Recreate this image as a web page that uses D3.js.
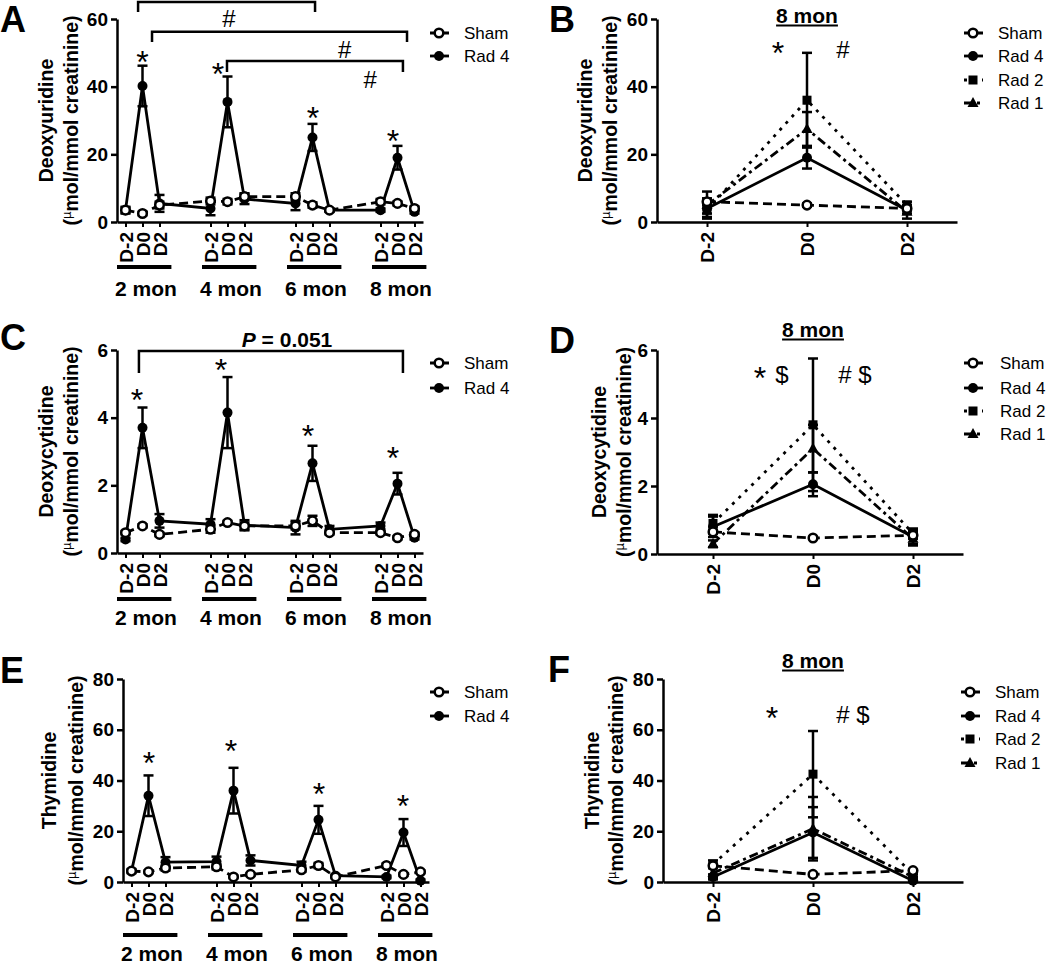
<!DOCTYPE html>
<html><head><meta charset="utf-8">
<script src="https://cdn.jsdelivr.net/npm/d3@7"></script>
<style>
body{margin:0;background:#fff}
svg{display:block}
text{font-family:"Liberation Sans",Arial,Helvetica,sans-serif;fill:#000}
</style>
</head><body>
<svg id="c" width="1050" height="964"></svg>
<script>
// ---------- data ----------
const days = ["D-2", "D0", "D2"];
const months = ["2 mon", "4 mon", "6 mon", "8 mon"];

// A: Deoxyuridine, time course
const aTicks = [0, 20, 40, 60];
const aSham = [3.5, 2.5, 5, 6.2, 6, 7.5, 7.5, 5, 3.5, 6, 5.5, 4];
const aShamErr = [0.8, 0.5, 1, 1, 0.8, 1, 1, 0.8, 0.5, 0.8, 0.6, 0.6];
const aRad4 = [3.5, 40.2, 5.5, 4, 35.5, 6.8, 5.5, 25, 3.5, 3.5, 19, 3];
const aRad4Err = [1, 6, 2.5, 2, 7.5, 1.5, 2, 4, 0.5, 0.5, 3.5, 0.5];
const aBrackets = [[0.74, 11.15, 65.0, 62.1], [1.56, 16.56, 56.2, 53.2], [5.97, 16.32, 47.6, 44.3]];
const aStars = [[1.0, 49.1], [5.44, 45.5], [11.03, 32.5], [15.74, 25.7]];
const aTexts = [["#", 6.09, 57.5], ["#", 12.9, 48.5], ["#", 14.4, 39.6]];

// B: Deoxyuridine, 8 mon
const bTicks = [0, 20, 40, 60];
const bSham = [6, 5, 4], bShamErr = [1, 0.5, 0.5];
const bRad4 = [4, 19, 3.5], bRad4Err = [1.5, 3.2, 1];
const bRad2 = [3.5, 36, 5], bRad2Err = [2, 14, 1];
const bRad1 = [5, 27.5, 3], bRad1Err = [4, 5, 2];
const bStars = [[0.71, 51.7]];
const bTexts = [["#", 1.36, 48.5]];

// C: Deoxycytidine, time course
const cTicks = [0, 2, 4, 6];
const cSham = [0.6, 0.8, 0.55, 0.7, 0.9, 0.8, 0.8, 0.95, 0.6, 0.6, 0.45, 0.55];
const cShamErr = [0.05, 0.05, 0.05, 0.1, 0.05, 0.1, 0.1, 0.15, 0.05, 0.05, 0.05, 0.05];
const cRad4 = [0.4, 3.7, 0.95, 0.85, 4.15, 0.82, 0.75, 2.65, 0.7, 0.8, 2.05, 0.45];
const cRad4Err = [0.05, 0.6, 0.2, 0.15, 1.05, 0.15, 0.2, 0.52, 0.1, 0.1, 0.32, 0.05];
const cBrackets = [[0.79, 16.32, 5.97, 5.32]];
const cStars = [[0.68, 4.70], [5.62, 5.59], [10.74, 3.64], [15.74, 2.99]];
const cTexts = [["P = 0.051", 9.5, 6.09]];

// D: Deoxycytidine, 8 mon
const dTicks = [0, 2, 4, 6];
const dSham = [0.65, 0.47, 0.55], dShamErr = [0.05, 0.03, 0.05];
const dRad4 = [0.8, 2.05, 0.5], dRad4Err = [0.3, 0.35, 0.2];
const dRad2 = [0.9, 3.8, 0.6], dRad2Err = [0.25, 1.95, 0.15];
const dRad1 = [0.3, 3.1, 0.45], dRad1Err = [0.1, 0.7, 0.2];
const dStars = [[0.47, 5.34]];
const dTexts = [["$", 0.69, 5.03], ["# $", 1.42, 5.03]];

// E: Thymidine, time course
const eTicks = [0, 20, 40, 60, 80];
const eSham = [4.3, 4, 5.5, 6, 2, 3, 4.8, 6.5, 2, 6.5, 3, 4];
const eShamErr = [0.5, 0.5, 1, 1, 0.5, 0.5, 0.8, 1, 0.5, 0.8, 0.5, 0.5];
const eRad4 = [4.3, 34, 7.8, 8, 36, 8.5, 6.5, 24.5, 2.5, 2, 19.5, 0.5];
const eRad4Err = [0.8, 8, 2, 2, 9, 2, 1.5, 5.5, 0.5, 0.5, 5.3, 0.5];
const eStars = [[1.03, 49.3], [5.85, 54.0], [11.03, 37.0], [15.97, 32.3]];

// F: Thymidine, 8 mon
const fTicks = [0, 20, 40, 60, 80];
const fSham = [6.4, 3, 4.5], fShamErr = [0.8, 0.5, 0.5];
const fRad4 = [2, 19.5, 0.5], fRad4Err = [1, 10, 0.5];
const fRad2 = [7, 42.5, 3], fRad2Err = [1.5, 17, 1];
const fRad1 = [3.5, 21, 2], fRad1Err = [2, 12.5, 1];
const fStars = [[0.59, 67.0]];
const fTexts = [["# $", 1.40, 62.7]];

// ---------- styles ----------
const styles = {
  "Sham":  {dash: "9,5", marker: "open"},
  "Rad 4": {dash: null, marker: "circle"},
  "Rad 2": {dash: "3,6", marker: "square"},
  "Rad 1": {dash: "9,4,3,4", marker: "triangle"}
};

const longPos = [], longLabels = [];
months.forEach((m, mi) => days.forEach((d, di) => { longPos.push(mi * 5 + di); longLabels.push(d); }));
const shortPos = [0, 1, 2];

const svg = d3.select("#c");

function marker(g, type, cx, cy) {
  if (type === "open") {
    g.append("circle").attr("cx", cx).attr("cy", cy).attr("r", 4.3)
      .attr("fill", "#fff").attr("stroke", "#000").attr("stroke-width", 2.5);
  } else if (type === "circle") {
    g.append("circle").attr("cx", cx).attr("cy", cy).attr("r", 5).attr("fill", "#000");
  } else if (type === "square") {
    g.append("rect").attr("x", cx - 4.5).attr("y", cy - 4.5).attr("width", 9).attr("height", 9).attr("fill", "#000");
  } else {
    g.append("path").attr("d", `M${cx},${cy - 6}L${cx + 5.5},${cy + 4}L${cx - 5.5},${cy + 4}Z`).attr("fill", "#000");
  }
}

function drawPanel(cfg) {
  const x = d3.scaleLinear().domain(cfg.xDomain).range(cfg.xRange);
  const y = d3.scaleLinear().domain([0, cfg.yMax]).range([cfg.yBottom, cfg.yTop]);
  const g = svg.append("g");
  const axisX = cfg.xRange[0];

  // panel letter
  g.append("text").attr("x", cfg.letterPos[0]).attr("y", cfg.letterPos[1])
    .attr("font-size", 36).attr("font-weight", "bold").text(cfg.letter);

  // y axis
  const ya = g.append("g").attr("transform", `translate(${axisX},0)`)
    .call(d3.axisLeft(y).tickValues(cfg.yTicks).tickFormat(d3.format("d"))
      .tickSize(6).tickSizeOuter(0).tickPadding(3));
  ya.select(".domain").attr("stroke-width", 2.5);
  ya.selectAll(".tick line").attr("stroke-width", 2.5);
  ya.selectAll("text").attr("font-size", 19).attr("font-weight", "bold")
    .attr("font-family", "Liberation Sans, Arial, sans-serif");

  // x axis
  const xa = g.append("g").attr("transform", `translate(0,${cfg.yBottom})`)
    .call(d3.axisBottom(x).tickValues(cfg.pos).tickFormat((d, i) => cfg.labels[i]).tickSize(5).tickSizeOuter(0));
  xa.select(".domain").attr("stroke-width", 2.5);
  xa.selectAll(".tick line").attr("stroke-width", 2);
  xa.selectAll("text").attr("font-size", 19).attr("font-weight", "bold")
    .attr("font-family", "Liberation Sans, Arial, sans-serif")
    .attr("transform", "rotate(-90)").attr("text-anchor", "end")
    .attr("x", -10).attr("y", 0).attr("dy", "0.36em");

  // y label
  const ymid = (cfg.yTop + cfg.yBottom) / 2;
  g.append("text").attr("transform", `translate(${axisX + cfg.yLabOff[0]},${ymid}) rotate(-90)`)
    .attr("text-anchor", "middle").attr("font-size", 19.5).attr("font-weight", "bold").text(cfg.yLabel);
  const t2 = g.append("text").attr("transform", `translate(${axisX + cfg.yLabOff[1]},${ymid}) rotate(-90)`)
    .attr("text-anchor", "middle").attr("font-size", 19.5).attr("font-weight", "bold");
  t2.append("tspan").text("(");
  t2.append("tspan").attr("font-size", 13).attr("font-weight", "normal").attr("dy", -7).text("\u00b5");
  t2.append("tspan").attr("dy", 7).text("mol/mmol creatinine)");

  // month bars
  if (cfg.months) {
    months.forEach((m, mi) => {
      g.append("line").attr("x1", x(mi * 5 - 0.5)).attr("x2", x(mi * 5 + 2.7))
        .attr("y1", cfg.yBottom + cfg.monthOff[0]).attr("y2", cfg.yBottom + cfg.monthOff[0])
        .attr("stroke", "#000").attr("stroke-width", 4);
      g.append("text").attr("x", x(mi * 5 + 1.2)).attr("y", cfg.yBottom + cfg.monthOff[1])
        .attr("text-anchor", "middle").attr("font-size", 21).attr("font-weight", "bold").text(m);
    });
  }

  // title
  if (cfg.title) {
    const tt = g.append("text").attr("x", x(1)).attr("y", y(cfg.titleY))
      .attr("text-anchor", "middle").attr("font-size", 21).attr("font-weight", "bold").text(cfg.title);
    const bb = tt.node().getBBox();
    g.append("line").attr("x1", bb.x).attr("x2", bb.x + bb.width)
      .attr("y1", y(cfg.titleY) + 2.5).attr("y2", y(cfg.titleY) + 2.5)
      .attr("stroke", "#000").attr("stroke-width", 2);
  }

  // series: lines
  const line = d3.line().x(d => x(d[0])).y(d => y(d[1]));
  const draw = cfg.series.slice().reverse();
  draw.forEach(s => {
    const pts = cfg.pos.map((p, i) => [p, s.v[i]]);
    g.append("path").attr("d", line(pts)).attr("fill", "none").attr("stroke", "#000")
      .attr("stroke-width", 2.8).attr("stroke-dasharray", styles[s.name].dash);
  });
  // error bars
  draw.forEach(s => {
    cfg.pos.forEach((p, i) => {
      const cx = x(p), lo = y(Math.max(0, s.v[i] - s.e[i])), hi = y(s.v[i] + s.e[i]);
      g.append("line").attr("x1", cx).attr("x2", cx).attr("y1", lo).attr("y2", hi)
        .attr("stroke", "#000").attr("stroke-width", 2.5);
      [lo, hi].forEach(yy => g.append("line").attr("x1", cx - 5).attr("x2", cx + 5)
        .attr("y1", yy).attr("y2", yy).attr("stroke", "#000").attr("stroke-width", 2.5));
    });
  });
  // markers
  draw.forEach(s => {
    cfg.pos.forEach((p, i) => marker(g, styles[s.name].marker, x(p), y(s.v[i])));
  });

  // brackets
  (cfg.brackets || []).forEach(b => {
    g.append("path").attr("d", `M${x(b[0])},${y(b[3])}V${y(b[2])}H${x(b[1])}V${y(b[3])}`)
      .attr("fill", "none").attr("stroke", "#000").attr("stroke-width", 2.5);
  });
  // stars (centred)
  (cfg.stars || []).forEach(s => {
    g.append("text").attr("x", x(s[0])).attr("y", y(s[1]) + 17).attr("text-anchor", "middle")
      .attr("font-size", 32).text("*");
  });
  // other texts (baseline)
  (cfg.texts || []).forEach(t => {
    const el = g.append("text").attr("x", x(t[1])).attr("y", y(t[2])).attr("text-anchor", "middle");
    if (t[0].startsWith("P")) {
      el.attr("font-size", 21).attr("font-weight", "bold");
      el.append("tspan").attr("font-style", "italic").text("P");
      el.append("tspan").text(t[0].slice(1));
    } else {
      el.attr("font-size", 24).text(t[0]);
    }
  });

  // legend
  const L = cfg.legend;
  cfg.series.forEach((s, i) => {
    const ly = L.y[i];
    g.append("line").attr("x1", L.x - 9).attr("x2", L.x + 10).attr("y1", ly).attr("y2", ly)
      .attr("stroke", "#000").attr("stroke-width", 2.8).attr("stroke-dasharray", styles[s.name].dash);
    marker(g, styles[s.name].marker, L.x, ly);
    g.append("text").attr("x", L.tx).attr("y", ly + 6).attr("font-size", 17).text(s.name);
  });
}

// ---------- panels ----------
drawPanel({letter: "A", letterPos: [0, 32], xDomain: [-0.5, 17.5], xRange: [117, 423],
  yMax: 60, yBottom: 222, yTop: 19, yTicks: aTicks, pos: longPos, labels: longLabels,
  yLabel: "Deoxyuridine", yLabOff: [-64, -39], months: true, monthOff: [45, 74],
  series: [{name: "Sham", v: aSham, e: aShamErr}, {name: "Rad 4", v: aRad4, e: aRad4Err}],
  brackets: aBrackets, stars: aStars, texts: aTexts,
  legend: {x: 439, tx: 464, y: [33, 56]}});

drawPanel({letter: "B", letterPos: [549, 32], xDomain: [-0.5, 2.5], xRange: [657, 957],
  yMax: 60, yBottom: 222, yTop: 19, yTicks: bTicks, pos: shortPos, labels: days,
  yLabel: "Deoxyuridine", yLabOff: [-65, -40], title: "8 mon", titleY: 58.8,
  series: [{name: "Sham", v: bSham, e: bShamErr}, {name: "Rad 4", v: bRad4, e: bRad4Err},
           {name: "Rad 2", v: bRad2, e: bRad2Err}, {name: "Rad 1", v: bRad1, e: bRad1Err}],
  stars: bStars, texts: bTexts,
  legend: {x: 973, tx: 998, y: [33, 56, 80, 103]}});

drawPanel({letter: "C", letterPos: [0, 350], xDomain: [-0.5, 17.5], xRange: [117, 423],
  yMax: 6, yBottom: 553, yTop: 350, yTicks: cTicks, pos: longPos, labels: longLabels,
  yLabel: "Deoxycytidine", yLabOff: [-64, -39], months: true, monthOff: [46, 72],
  series: [{name: "Sham", v: cSham, e: cShamErr}, {name: "Rad 4", v: cRad4, e: cRad4Err}],
  brackets: cBrackets, stars: cStars, texts: cTexts,
  legend: {x: 439, tx: 464, y: [363, 388]}});

drawPanel({letter: "D", letterPos: [549, 353], xDomain: [-0.56, 2.5], xRange: [657, 963],
  yMax: 6, yBottom: 554, yTop: 350, yTicks: dTicks, pos: shortPos, labels: days,
  yLabel: "Deoxycytidine", yLabOff: [-51, -26], title: "8 mon", titleY: 6.38,
  series: [{name: "Sham", v: dSham, e: dShamErr}, {name: "Rad 4", v: dRad4, e: dRad4Err},
           {name: "Rad 2", v: dRad2, e: dRad2Err}, {name: "Rad 1", v: dRad1, e: dRad1Err}],
  stars: dStars, texts: dTexts,
  legend: {x: 973, tx: 1000, y: [363, 388, 411, 434]}});

drawPanel({letter: "E", letterPos: [0, 683], xDomain: [-0.5, 17.5], xRange: [123, 429],
  yMax: 80, yBottom: 882, yTop: 679, yTicks: eTicks, pos: longPos, labels: longLabels,
  yLabel: "Thymidine", yLabOff: [-67, -40], months: true, monthOff: [53, 79],
  series: [{name: "Sham", v: eSham, e: eShamErr}, {name: "Rad 4", v: eRad4, e: eRad4Err}],
  stars: eStars,
  legend: {x: 439, tx: 464, y: [692, 716]}});

drawPanel({letter: "F", letterPos: [548, 682], xDomain: [-0.5, 2.5], xRange: [663, 963],
  yMax: 80, yBottom: 882, yTop: 679, yTicks: fTicks, pos: shortPos, labels: days,
  yLabel: "Thymidine", yLabOff: [-64, -40], title: "8 mon", titleY: 84.3,
  series: [{name: "Sham", v: fSham, e: fShamErr}, {name: "Rad 4", v: fRad4, e: fRad4Err},
           {name: "Rad 2", v: fRad2, e: fRad2Err}, {name: "Rad 1", v: fRad1, e: fRad1Err}],
  stars: fStars, texts: fTexts,
  legend: {x: 970, tx: 995, y: [692, 716, 739, 763]}});
</script>
</body></html>
